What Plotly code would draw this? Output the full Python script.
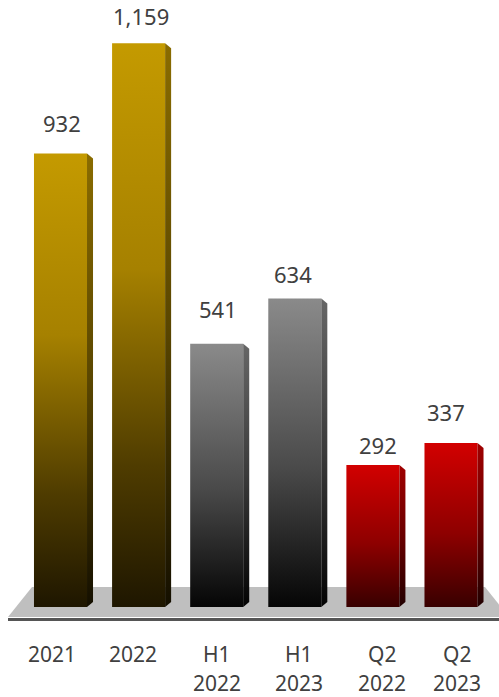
import plotly.graph_objects as go

# ---- data ----
categories = ["2021", "2022", "H1<br>2022", "H1<br>2023", "Q2<br>2022", "Q2<br>2023"]
values = [932, 1159, 541, 634, 292, 337]
groups = ["year", "year", "half", "half", "quarter", "quarter"]

# ---- styling ----
W, H = 499, 697
PX_PER_X = 78.1          # pixels per category step
X0_PX = 63.5             # pixel position of the first category
PX_PER_Y = 0.4865        # pixels per unit of value
BASE_PX = 607            # pixel row of the zero line

FRONT_L, FRONT_R, SIDE_R = -0.378, 0.301, 0.378   # bar geometry in category units
SIDE_DROP = 5 / PX_PER_Y                            # bevel of the side face

FONT = "Noto Sans"
TEXT_COLOR = "#404040"

# gradients listed bottom -> top
front_scales = {
    "year": [[0, "#1e1600"], [0.25, "#4f3c00"], [0.6, "#a68100"], [1, "#c49a00"]],
    "half": [[0, "#050505"], [0.45, "#4a4a4a"], [1, "#8a8a8a"]],
    "quarter": [[0, "#380000"], [0.45, "#8e0000"], [1, "#d20000"]],
}
side_scales = {
    "year": [[0, "#140f00"], [0.5, "#5a4600"], [1, "#8a6c00"]],
    "half": [[0, "#030303"], [0.5, "#3a3a3a"], [1, "#666666"]],
    "quarter": [[0, "#220000"], [0.5, "#6a0000"], [1, "#a00000"]],
}

# value-label offsets (px) and category-label offsets (px)
label_dx = [-1.5, -0.6, -1.4, -5.3, 1.6, -7.7]
label_dy = [31, 27, 35, 25, 20, 31]
tick_dx = [-11.5, -8.3, -3, 1.2, 5.8, 2.7]
tick_line_dy = [-47, -76]


def px_x(p):
    return p / W


def px_y(p):
    return 1 - p / H


fig = go.Figure()

for i, (v, g) in enumerate(zip(values, groups)):
    # front face
    fig.add_trace(go.Scatter(
        x=[i + FRONT_L, i + FRONT_R, i + FRONT_R, i + FRONT_L, i + FRONT_L],
        y=[0, 0, v, v, 0],
        mode="none", fill="toself",
        fillgradient=dict(type="vertical", colorscale=front_scales[g]),
        hoverinfo="skip",
    ))
    # side face
    fig.add_trace(go.Scatter(
        x=[i + FRONT_R, i + SIDE_R, i + SIDE_R, i + FRONT_R, i + FRONT_R],
        y=[v, v - SIDE_DROP, SIDE_DROP, 0, v],
        mode="none", fill="toself",
        fillgradient=dict(type="vertical", colorscale=side_scales[g]),
        hoverinfo="skip",
    ))

annotations = []
for i, v in enumerate(values):
    annotations.append(dict(
        x=i, y=v, xref="x", yref="y", text=f"{v:,}", showarrow=False,
        xshift=label_dx[i], yshift=label_dy[i], yanchor="middle",
        font=dict(family=FONT, size=22, color=TEXT_COLOR),
    ))
for i, cat in enumerate(categories):
    for k, line in enumerate(cat.split("<br>")):
        annotations.append(dict(
            x=i, y=0, xref="x", yref="y", text=line, showarrow=False,
            xshift=tick_dx[i], yshift=tick_line_dy[k], yanchor="middle",
            font=dict(family=FONT, size=21, color=TEXT_COLOR),
        ))

# floor platform and its front edge
floor_pts = [(32, 587), (485, 587), (509, 617), (8, 617)]
floor_path = "M " + " L ".join(f"{px_x(a):.5f},{px_y(b):.5f}" for a, b in floor_pts) + " Z"
shapes = [
    dict(type="path", path=floor_path, xref="paper", yref="paper",
         fillcolor="#bfbfbf", line=dict(width=0), layer="below"),
    dict(type="line", xref="paper", yref="paper",
         x0=px_x(8), x1=px_x(499), y0=px_y(619.5), y1=px_y(619.5),
         line=dict(color="#555555", width=3), layer="below"),
]

fig.update_layout(
    width=W, height=H,
    margin=dict(l=0, r=0, t=0, b=0),
    paper_bgcolor="white", plot_bgcolor="white",
    showlegend=False,
    xaxis=dict(visible=False, range=[-X0_PX / PX_PER_X, (W - X0_PX) / PX_PER_X], fixedrange=True),
    yaxis=dict(visible=False, range=[-(H - BASE_PX) / PX_PER_Y, BASE_PX / PX_PER_Y], fixedrange=True),
    annotations=annotations,
    shapes=shapes,
)

fig.write_html("out.html")
